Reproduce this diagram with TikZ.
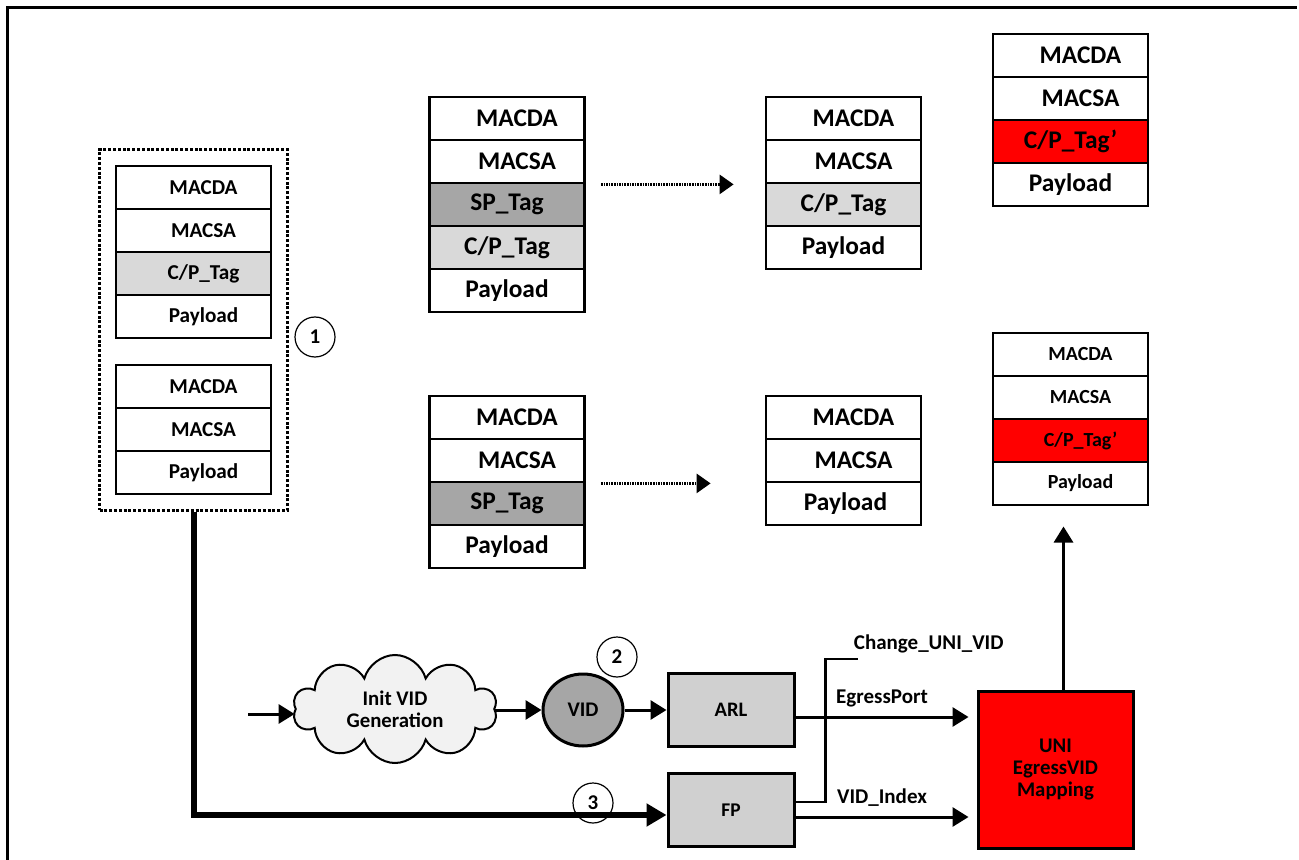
\documentclass[tikz,border=0pt]{standalone}
\usepackage{fontspec}
\setmainfont{Carlito}
\usepackage{tikz}
\usetikzlibrary{arrows.meta}
\usetikzlibrary{positioning}
\usetikzlibrary{calc}
\usetikzlibrary{fit}
\usetikzlibrary{shapes.symbols}
\usetikzlibrary{shapes.geometric}
\definecolor{tagred}{RGB}{255,0,0}
\definecolor{cplight}{RGB}{217,217,217}
\definecolor{spdark}{RGB}{166,166,166}
\definecolor{unitgray}{RGB}{208,208,208}
\definecolor{cloudgray}{RGB}{242,242,242}
\tikzset{field/.style={draw,
                       line width=1.4pt,
                       minimum width=77.5pt,
                       minimum height=21.5pt,
                       inner sep=0pt,
                       font=\bfseries\fontsize{12.7}{14}\selectfont}}
\tikzset{small field/.style={font=\bfseries\fontsize{10.6}{12}\selectfont}}
\tikzset{tiny field/.style={font=\bfseries\fontsize{10}{12}\selectfont}}
\tikzset{unit/.style={draw,line width=1.5pt,fill=unitgray,
                      minimum width=63pt,minimum height=36.5pt,
                      font=\bfseries\fontsize{10.3}{12}\selectfont}}
\tikzset{marker/.style={draw,circle,line width=0.6pt,minimum size=20pt,
                        inner sep=0pt,font=\bfseries\fontsize{10.5}{12}\selectfont}}
\tikzset{tag/.style={font=\bfseries\fontsize{10.5}{12}\selectfont}}
\tikzset{signal/.style={draw,line width=1.5pt,-{Triangle[length=8pt,width=9.5pt]}}}
\tikzset{hop/.style={draw,line width=1.4pt,dash pattern=on 0.8pt off 0.5pt,
                     -{Triangle[length=7pt,width=9.5pt]}}}
\newcommand{\CPTAG}{C/P\_Tag}
\newcommand{\CPNEW}{C/P\_Tag'}
\newcommand{\SPTAG}{SP\_Tag}

\begin{document}
\begin{tikzpicture}
      [
      x=0.5pt,y=-0.5pt,
      feed/.style={draw,line width=3pt,-{Triangle[length=10pt,width=11pt]}},
      ]
      \useasboundingbox (0,0) rectangle (1299,860);

      % frame
      \draw [line width=1.5pt] (7,860) -- (7,8) -- (1297,8);

      % incoming frames
      \foreach \j/\t/\c/\s [evaluate=\j as \y using 144.5+43*\j] in
      {1/MACDA/white/10, 2/MACSA/white/10, 3/\CPTAG/cplight/10, 4/Payload/white/10}
      {
      \node [field,small field,fill=\c] (P\j) at (193.5,\y) {\hspace*{\s pt}\t};
      }
      \foreach \j/\t/\c/\s [evaluate=\j as \y using 343.5+43*\j] in
      {1/MACDA/white/10, 2/MACSA/white/10, 3/Payload/white/10}
      {
      \node [field,small field,fill=\c] (Q\j) at (193.5,\y) {\hspace*{\s pt}\t};
      }
      \node [draw,line width=1.5pt,dash pattern=on 1.5pt off 0.9pt,
      fit=(P1)(Q3),inner sep=7.5pt] (G) {};
      \node [marker] (n1) at (315,337) {1};

      % tagged frames
      \foreach \j/\t/\c/\s [evaluate=\j as \y using 75.5+43*\j] in
      {1/MACDA/white/10, 2/MACSA/white/10, 3/\SPTAG/spdark/0, 4/\CPTAG/cplight/0, 5/Payload/white/0}
      {
      \node [field,fill=\c] (M\j) at (507,\y) {\hspace*{\s pt}\t};
      }
      \foreach \j/\t/\c/\s [evaluate=\j as \y using 374.5+43*\j] in
      {1/MACDA/white/10, 2/MACSA/white/10, 3/\SPTAG/spdark/0, 4/Payload/white/0}
      {
      \node [field,fill=\c] (N\j) at (507,\y) {\hspace*{\s pt}\t};
      }

      % stripped frames
      \foreach \j/\t/\c/\s [evaluate=\j as \y using 75.5+43*\j] in
      {1/MACDA/white/10, 2/MACSA/white/10, 3/\CPTAG/cplight/0, 4/Payload/white/0}
      {
      \node [field,fill=\c] (R\j) at (843.5,\y) {\hspace*{\s pt}\t};
      }
      \foreach \j/\t/\c/\s [evaluate=\j as \y using 374.5+43*\j] in
      {1/MACDA/white/10, 2/MACSA/white/10, 3/Payload/white/2}
      {
      \node [field,fill=\c] (S\j) at (843.5,\y) {\hspace*{\s pt}\t};
      }

      % egress frames
      \foreach \j/\t/\c/\s [evaluate=\j as \y using 12.5+43*\j] in
      {1/MACDA/white/10, 2/MACSA/white/10, 3/\CPNEW/tagred/0, 4/Payload/white/0}
      {
      \node [field,fill=\c] (T\j) at (1070.5,\y) {\hspace*{\s pt}\t};
      }
      \foreach \j/\t/\c/\s [evaluate=\j as \y using 311.5+43*\j] in
      {1/MACDA/white/10, 2/MACSA/white/10, 3/\CPNEW/tagred/10, 4/Payload/white/10}
      {
      \node [field,tiny field,fill=\c] (W\j) at (1070.5,\y) {\hspace*{\s pt}\t};
      }

      \path [hop] ($(M2.south east)+(15,0)$) -- ($(R2.south west)+(-31,0)$);
      \path [hop] ($(N2.south east)+(15,0)$) -- ($(S2.south west)+(-54,0)$);

      % processing units
      \coordinate (src) at (248,714);
      \node [cloud,cloud puffs=10,aspect=2,draw,line width=1pt,fill=cloudgray,
      minimum width=102pt,minimum height=54pt,inner sep=0pt,align=center,
      font=\bfseries\fontsize{10.4}{11}\selectfont] (gen) at (395,709) {Init VID\\Generation};
      \node [ellipse,draw,line width=1.5pt,fill=spdark,minimum width=40pt,
      minimum height=36pt,font=\bfseries\fontsize{10.4}{12}\selectfont] (vid) at (583,710) {VID};
      \node [marker] (n2) at (617,657) {2};
      \node [unit] (arl) at (731,710) {ARL};
      \node [unit,font=\bfseries\fontsize{9.7}{12}\selectfont] (fp) at (731,810) {FP};
      \node [draw,line width=1.5pt,fill=tagred,minimum width=77.5pt,minimum height=78.5pt,
      align=center,font=\bfseries\fontsize{10.4}{11}\selectfont] (uni) at (1055.5,769.5)
      {UNI\\EgressVID\\Mapping};

      % connections
      \path [signal] (src) -- (src -| gen.west);
      \path [signal] (gen.east |- vid.west) -- (vid.west);
      \path [signal] (vid) -- (arl);
      \path [feed] (G.south) |- ([yshift=-2.5pt]fp.west);
      \node [marker] (n3) at (593,803) {3};

      \draw [line width=1.3pt] ([yshift=4pt]fp.east) -- ++(30,0) |- ++(32,-143) coordinate (chg);
      \node [tag,anchor=west,inner sep=0pt] at ($(chg)+(-4,-15)$) {Change\_UNI\_VID};

      \path [signal] ([yshift=-3.5pt]arl.east) -- node [tag,above=1pt] {EgressPort}
      ([xshift=-4pt,yshift=-3.5pt]uni.west |- arl.east);
      \path [signal] ([yshift=-3.5pt]fp.east) -- node [tag,above=1pt] {VID\_Index}
      ([xshift=-4pt,yshift=-3.5pt]uni.west |- fp.east);

      \path [signal] ([xshift=4pt]uni.north) -- ++(0,-163);

    \end{tikzpicture}
\end{document}
